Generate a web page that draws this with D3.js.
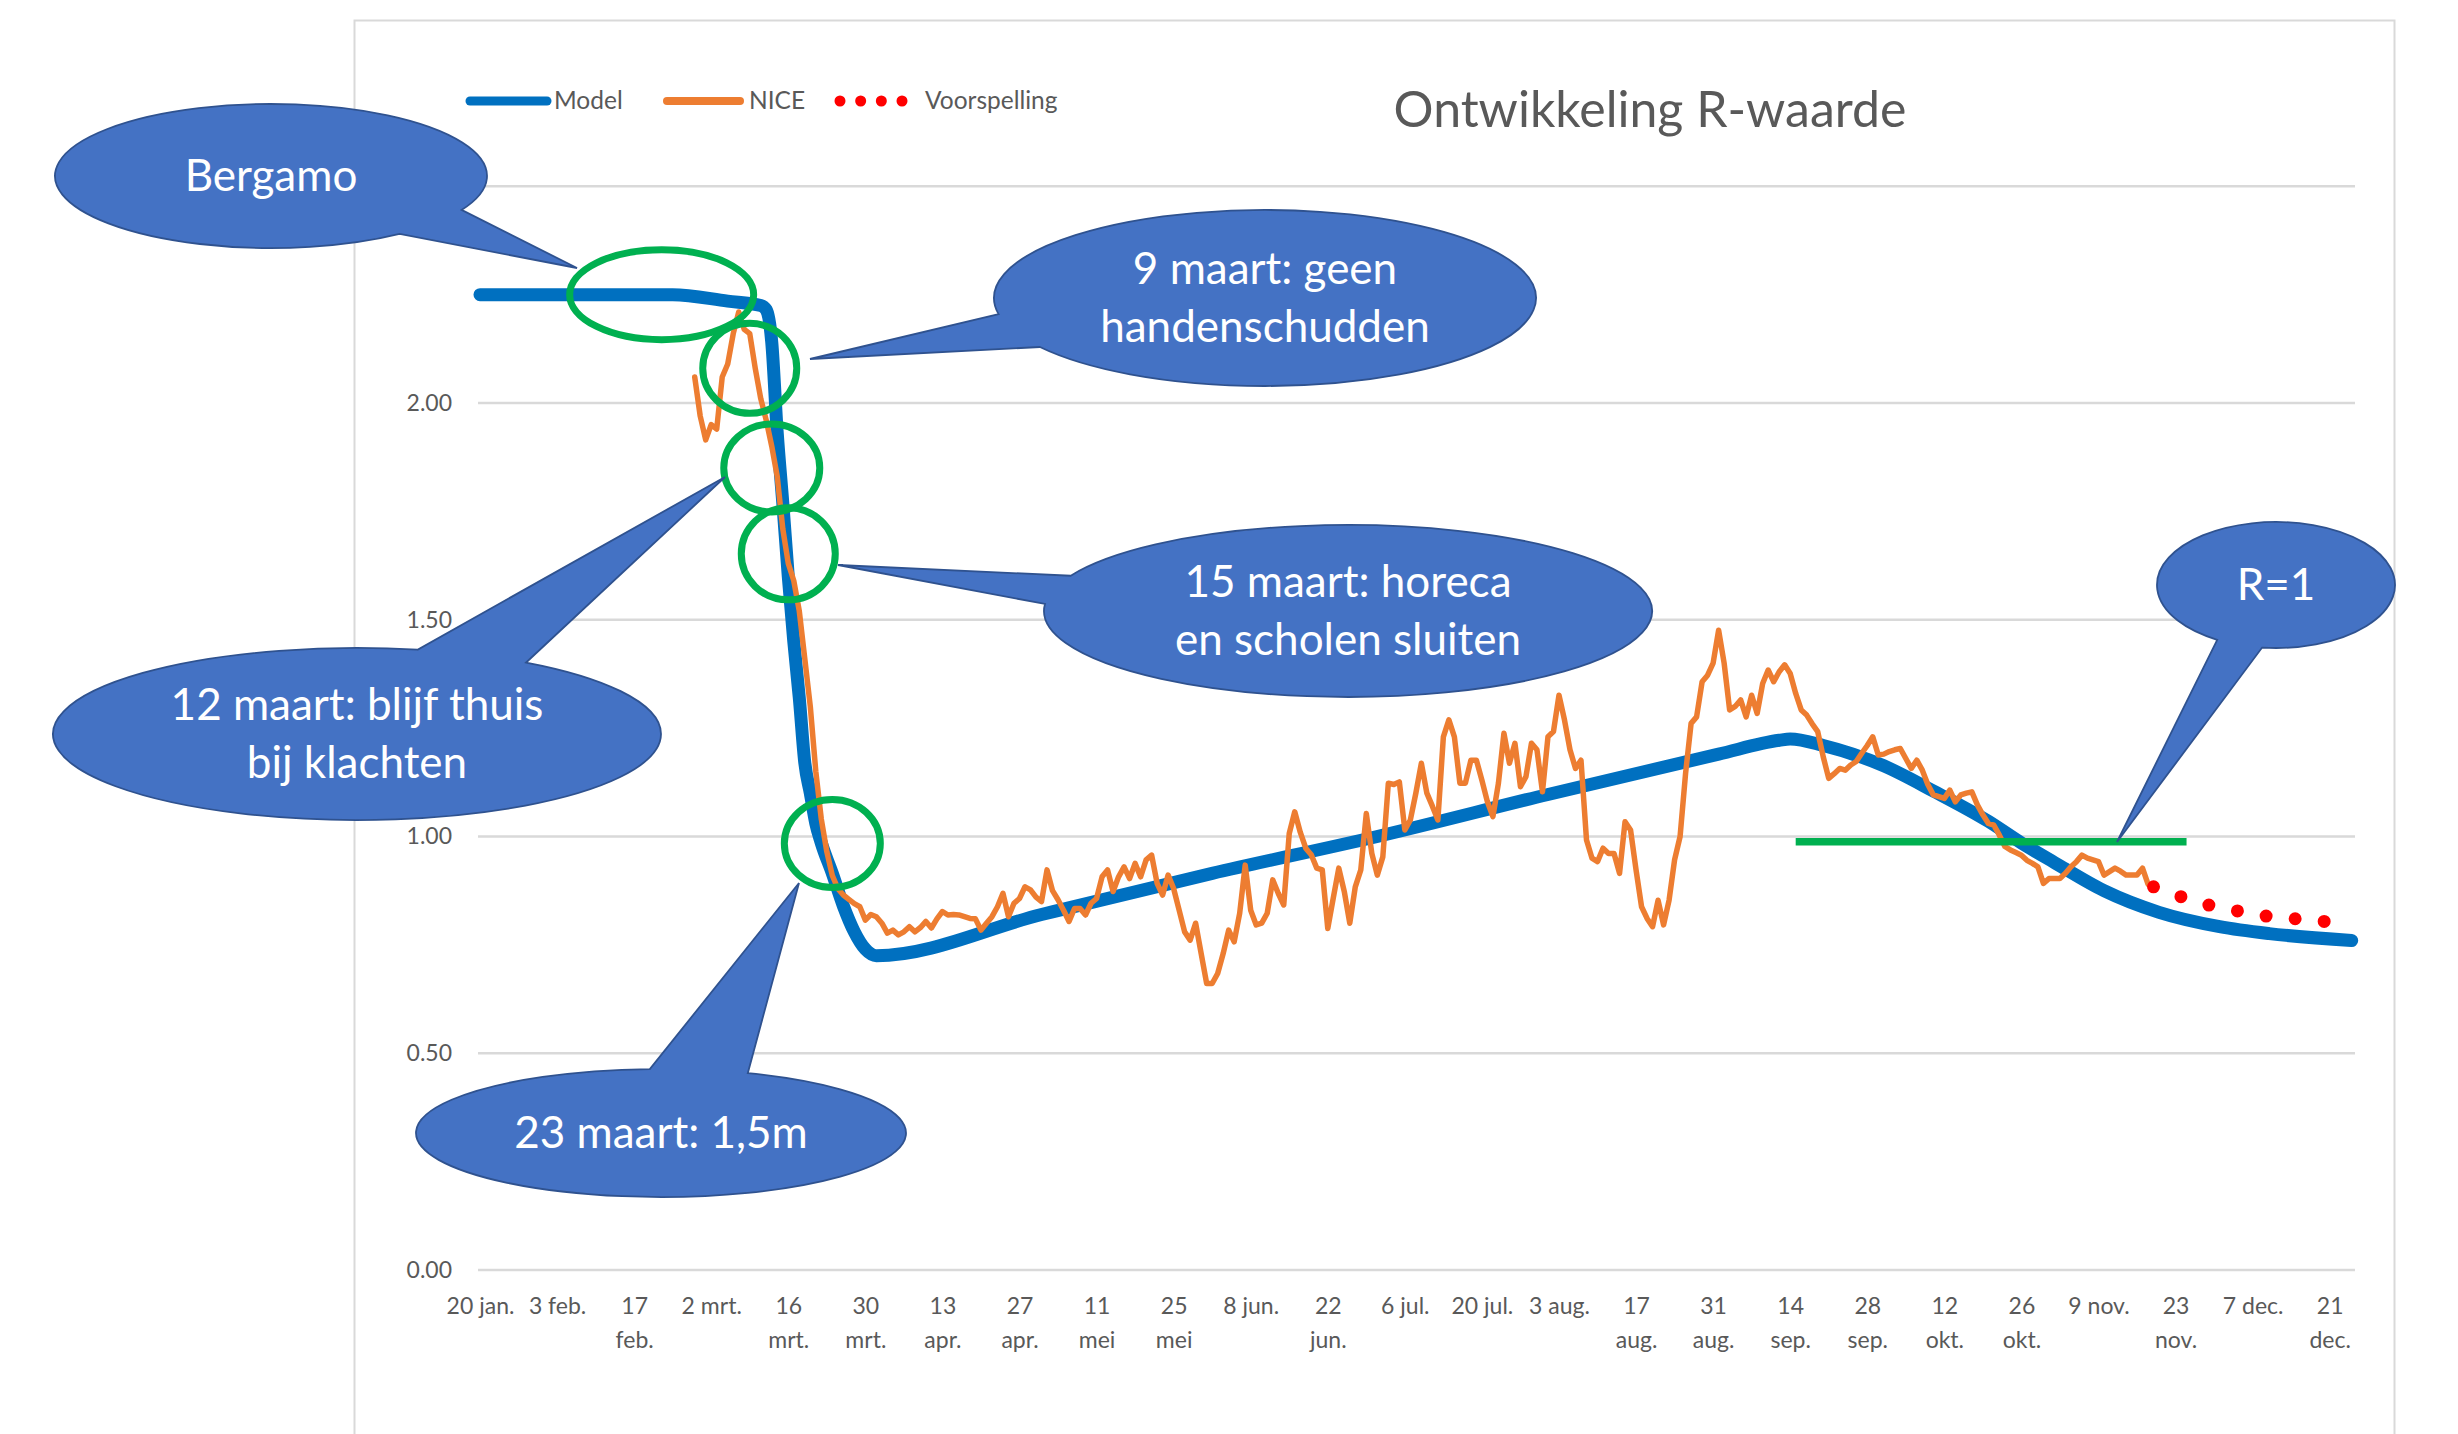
<!DOCTYPE html>
<html><head><meta charset="utf-8">
<script src="https://cdn.jsdelivr.net/npm/d3@7"></script>
<style>
html,body{margin:0;padding:0;background:#fff;}
svg{display:block;font-family:Lato,"Open Sans",sans-serif;}
</style></head>
<body><svg id="chart" width="2458" height="1434"></svg>
<script>
// ---------- DATA ----------
const xStart = "2020-01-20", xEnd = "2020-12-25";
const tickLabels = [["20 jan."],["3 feb."],["17","feb."],["2 mrt."],["16","mrt."],["30","mrt."],["13","apr."],["27","apr."],["11","mei"],["25","mei"],["8 jun."],["22","jun."],["6 jul."],["20 jul."],["3 aug."],["17","aug."],["31","aug."],["14","sep."],["28","sep."],["12","okt."],["26","okt."],["9 nov."],["23","nov."],["7 dec."],["21","dec."]];
const yTicks = [0, 0.5, 1, 1.5, 2, 2.5];

const modelSeries = [
["2020-01-20",2.25],["2020-02-24",2.25],["2020-03-05",2.235],["2020-03-11",2.225],["2020-03-12",2.215],
["2020-03-13",2.14],["2020-03-14",1.93],["2020-03-15",1.77],["2020-03-16",1.60],["2020-03-17",1.45],
["2020-03-18",1.32],["2020-03-19",1.17],["2020-03-20",1.10],["2020-03-21",1.03],["2020-03-22",0.985],
["2020-03-24",0.915],["2020-03-26",0.84],["2020-03-28",0.78],["2020-03-30",0.74],["2020-04-01",0.725],
["2020-05-01",0.82],["2020-06-01",0.915],["2020-07-01",1.0],["2020-08-01",1.097],["2020-09-01",1.19],
["2020-09-12",1.222],["2020-09-14",1.225],["2020-09-20",1.21],["2020-10-01",1.163],["2020-10-10",1.105],
["2020-10-20",1.035],["2020-10-26",0.985],["2020-11-01",0.94],["2020-11-10",0.875],["2020-11-20",0.825],
["2020-12-01",0.792],["2020-12-10",0.776],["2020-12-25",0.76]
];

const niceStart = "2020-02-28";
const niceValues = [
2.06,1.97,1.915,1.95,1.94,2.06,2.09,2.16,2.21,2.17,2.16,2.08,2.01,1.96,1.90,1.83,1.71,1.63,1.59,1.52,
1.41,1.30,1.15,1.04,0.965,0.91,0.88,0.865,0.855,0.845,0.838,0.807,0.82,0.815,0.80,0.777,0.784,0.773,0.78,0.792,
0.78,0.79,0.804,0.789,0.81,0.827,0.819,0.82,0.819,0.815,0.811,0.81,0.784,0.80,0.815,0.838,0.869,0.815,0.846,0.857,
0.884,0.877,0.86,0.85,0.923,0.875,0.854,0.83,0.804,0.834,0.834,0.819,0.846,0.857,0.907,0.923,0.873,0.907,0.93,0.903,
0.938,0.907,0.946,0.957,0.892,0.865,0.911,0.88,0.83,0.78,0.761,0.80,0.73,0.661,0.661,0.684,0.73,0.784,0.757,0.823,
0.934,0.83,0.796,0.80,0.823,0.90,0.869,0.842,1.007,1.057,1.01,0.973,0.958,0.927,0.923,0.788,0.858,0.927,0.873,0.80,
0.884,0.923,1.053,0.961,0.911,0.953,1.123,1.12,1.126,1.015,1.038,1.10,1.169,1.10,1.07,1.038,1.23,1.269,1.23,1.123,
1.123,1.176,1.176,1.13,1.08,1.046,1.123,1.238,1.169,1.215,1.115,1.138,1.215,1.20,1.103,1.23,1.242,1.326,1.269,1.20,
1.157,1.176,0.992,0.95,0.942,0.973,0.961,0.961,0.915,1.034,1.015,0.923,0.838,0.811,0.792,0.853,0.796,0.853,0.946,1.0,
1.146,1.261,1.276,1.357,1.372,1.40,1.476,1.40,1.292,1.30,1.315,1.276,1.326,1.284,1.353,1.384,1.357,1.38,1.396,1.376,
1.33,1.292,1.28,1.26,1.242,1.184,1.134,1.145,1.157,1.153,1.165,1.173,1.192,1.21,1.23,1.188,1.19,1.196,1.20,1.203,
1.18,1.157,1.176,1.153,1.12,1.096,1.092,1.088,1.107,1.08,1.096,1.10,1.103,1.073,1.05,1.03,1.026,1.003,0.977,0.969,
0.963,0.957,0.945,0.938,0.93,0.892,0.903,0.903,0.903,0.915,0.93,0.942,0.957,0.95,0.946,0.942,0.911,0.919,0.927,0.92,
0.911,0.911,0.911,0.927,0.89
];

const forecastSeries = [
["2020-11-19",0.884],["2020-11-24",0.861],["2020-11-29",0.842],["2020-12-04",0.829],
["2020-12-09",0.817],["2020-12-15",0.81],["2020-12-20",0.804]
];

const rOneLine = [["2020-09-15",0.988],["2020-11-25",0.988]];

const legendItems = ["Model","NICE","Voorspelling"];
const titleText = "Ontwikkeling R-waarde";

// highlight ellipses: [date, value, rx(px), ry(px)]
const markerRings = [
["2020-02-22",2.25,92,45],
["2020-03-09",2.08,47,45],
["2020-03-13",1.85,48,44],
["2020-03-16",1.652,47,46],
["2020-03-24",0.984,48,44]
];

const callouts = [
{lines:["Bergamo"], c:[271,176], r:[216,72], tip:[577,268], b1:[400,234], b2:[462,210]},
{lines:["9 maart: geen","handenschudden"], c:[1265,298], r:[271,88], tip:[810,359], b1:[1000,314], b2:[1040,347]},
{lines:["12 maart: blijf thuis","bij klachten"], c:[357,734], r:[304,86], tip:[725,477], b1:[418,649], b2:[525,663]},
{lines:["15 maart: horeca","en scholen sluiten"], c:[1348,611], r:[304,86], tip:[838,565], b1:[1073,576], b2:[1046,604]},
{lines:["23 maart: 1,5m"], c:[661,1133], r:[245,64], tip:[799,883], b1:[650,1070], b2:[748,1073]},
{lines:["R=1"], c:[2276,585], r:[119,63], tip:[2117,842], b1:[2217,640], b2:[2262,648]}
];

// ---------- CHART ----------
const parse = d3.utcParse("%Y-%m-%d");
const svg = d3.select("#chart");
svg.append("rect").attr("width",2458).attr("height",1434).attr("fill","#fff");
svg.append("rect").attr("x",354.5).attr("y",20.5).attr("width",2040).attr("height",1500)
  .attr("fill","none").attr("stroke","#D9D9D9").attr("stroke-width",2);

const x = d3.scaleUtc().domain([parse(xStart), parse(xEnd)]).range([480, 2351.7]);
const y = d3.scaleLinear().domain([0, 2.5]).range([1270, 186.25]);

// gridlines
svg.append("g").selectAll("line").data(yTicks).join("line")
  .attr("x1",478).attr("x2",2355).attr("y1",d=>y(d)).attr("y2",d=>y(d))
  .attr("stroke","#D9D9D9").attr("stroke-width",2.5);

// y labels
const yAxis = d3.axisLeft(y).tickValues(yTicks).tickFormat(d3.format(".2f")).tickSize(0).tickPadding(0);
const gy = svg.append("g").attr("transform","translate(452,0)").call(yAxis);
gy.select(".domain").remove();
gy.selectAll("text").attr("font-size",23).attr("fill","#595959").attr("font-family","Lato");

// x labels
const tickDates = tickLabels.map((t,i)=>d3.utcDay.offset(parse(xStart), 14*i));
const xAxis = d3.axisBottom(x).tickValues(tickDates).tickSize(0).tickPadding(0).tickFormat("");
const gx = svg.append("g").attr("transform","translate(0,1270)").call(xAxis);
gx.select(".domain").remove();
gx.selectAll(".tick").each(function(d,i){
  const t = d3.select(this).append("text").attr("fill","#595959").attr("font-size",23)
     .attr("font-family","Lato").attr("text-anchor","middle");
  tickLabels[i].forEach((s,j)=>t.append("tspan").attr("x",0).attr("y",44+j*34).text(s));
});

// title
svg.append("text").attr("x",1650).attr("y",127).attr("text-anchor","middle")
  .attr("font-size",50).attr("fill","#595959").attr("font-family","Lato").text(titleText);

// legend
const lg = svg.append("g");
lg.append("line").attr("x1",470).attr("x2",547).attr("y1",101).attr("y2",101)
  .attr("stroke","#0070C0").attr("stroke-width",9).attr("stroke-linecap","round");
lg.append("text").attr("x",554).attr("y",109).text(legendItems[0]);
lg.append("line").attr("x1",667).attr("x2",740).attr("y1",101).attr("y2",101)
  .attr("stroke","#ED7D31").attr("stroke-width",8).attr("stroke-linecap","round");
lg.append("text").attr("x",749).attr("y",109).text(legendItems[1]);
lg.append("line").attr("x1",840).attr("x2",902).attr("y1",101).attr("y2",101)
  .attr("stroke","#FF0000").attr("stroke-width",11).attr("stroke-linecap","round")
  .attr("pathLength",3).attr("stroke-dasharray","0 1");
lg.append("text").attr("x",925).attr("y",109).text(legendItems[2]);
lg.selectAll("text").attr("font-size",24.5).attr("fill","#595959").attr("font-family","Lato");

// model line
const modelData = modelSeries.map(d=>({date:parse(d[0]), v:d[1]}));
svg.append("path").datum(modelData)
  .attr("d", d3.line().x(d=>x(d.date)).y(d=>y(d.v)).curve(d3.curveMonotoneX))
  .attr("fill","none").attr("stroke","#0070C0").attr("stroke-width",13)
  .attr("stroke-linejoin","round").attr("stroke-linecap","round");

// NICE line
const niceData = niceValues.map((v,i)=>({date:d3.utcDay.offset(parse(niceStart), i), v}));
svg.append("path").datum(niceData)
  .attr("d", d3.line().x(d=>x(d.date)).y(d=>y(d.v)))
  .attr("fill","none").attr("stroke","#ED7D31").attr("stroke-width",5.5)
  .attr("stroke-linejoin","round").attr("stroke-linecap","round");

// forecast dotted line
const fcData = forecastSeries.map(d=>({date:parse(d[0]), v:d[1]}));
svg.append("path").datum(fcData)
  .attr("d", d3.line().x(d=>x(d.date)).y(d=>y(d.v)))
  .attr("fill","none").attr("stroke","#FF0000").attr("stroke-width",13)
  .attr("stroke-linecap","round").attr("pathLength",fcData.length-1).attr("stroke-dasharray","0 1");

// R=1 line
svg.append("path").datum(rOneLine.map(d=>({date:parse(d[0]), v:d[1]})))
  .attr("d", d3.line().x(d=>x(d.date)).y(d=>y(d.v)))
  .attr("stroke","#00B050").attr("stroke-width",7.5).attr("fill","none");

// rings
svg.append("g").selectAll("ellipse").data(markerRings).join("ellipse")
  .attr("cx",d=>x(parse(d[0]))).attr("cy",d=>y(d[1])).attr("rx",d=>d[2]).attr("ry",d=>d[3])
  .attr("fill","none").attr("stroke","#00B050").attr("stroke-width",7);

// callouts
function calloutPath(c){
  const [cx,cy]=c.c,[rx,ry]=c.r;
  const ang = p=>Math.atan2((p[1]-cy)/ry,(p[0]-cx)/rx);
  const a1=ang(c.b1), a2=ang(c.b2);
  const P=a=>[cx+rx*Math.cos(a), cy+ry*Math.sin(a)];
  const p1=P(a1), p2=P(a2);
  let diff=(a2-a1)%(2*Math.PI); if(diff<0) diff+=2*Math.PI;
  const sweep = diff>Math.PI?1:0;
  return `M${p1[0]},${p1[1]} A${rx},${ry} 0 1 ${sweep} ${p2[0]},${p2[1]} L${c.tip[0]},${c.tip[1]} Z`;
}
const cg = svg.append("g").selectAll("g").data(callouts).join("g");
cg.append("path").attr("d",calloutPath).attr("fill","#4472C4").attr("stroke","#2F528F").attr("stroke-width",1.8);
cg.each(function(c){
  const n=c.lines.length;
  const t=d3.select(this).append("text").attr("text-anchor","middle").attr("fill","#fff")
    .attr("font-size",44).attr("font-family","Lato");
  c.lines.forEach((s,j)=>t.append("tspan").attr("x",c.c[0])
    .attr("y",c.c[1]+15+(j-(n-1)/2)*58).text(s));
});
</script></body></html>
